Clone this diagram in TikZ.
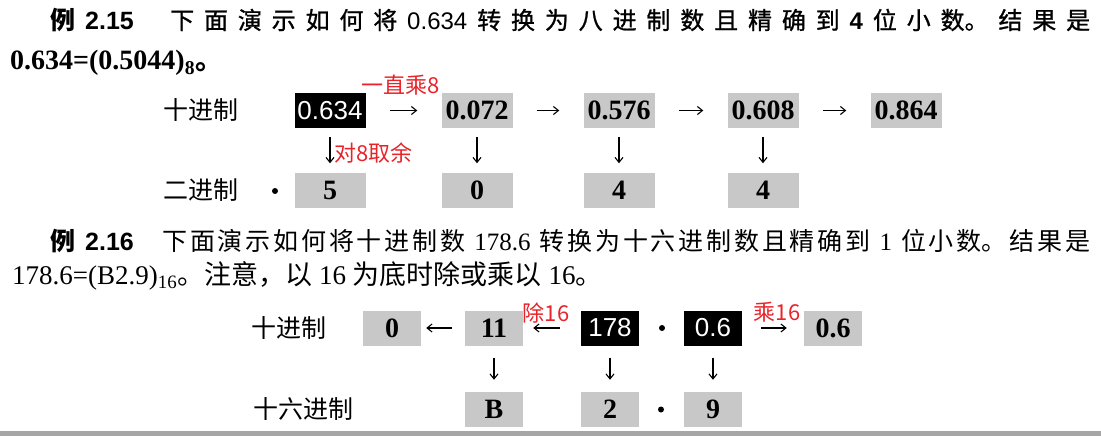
\documentclass[tikz,border=0pt]{standalone}
\usepackage{fontspec}
\setmainfont{Liberation Serif}
\newfontfamily\cjk{Noto Sans CJK SC}
\newfontfamily\cjkm[FakeBold=1]{Noto Sans CJK SC}
\newfontfamily\arial{Liberation Sans}
\usetikzlibrary{arrows.meta,positioning}
\XeTeXlinebreaklocale "zh"
\XeTeXlinebreakskip=0pt plus 1fil
\definecolor{annred}{RGB}{232,36,42}
\definecolor{boxgrey}{RGB}{200,200,200}

\tikzset{
  greybox/.style={fill=boxgrey, minimum width=71pt, minimum height=35pt, inner sep=0pt,
    font=\fontsize{28}{28}\selectfont\bfseries},
  darkbox/.style={fill=black, text=white, minimum width=71pt, minimum height=35pt, inner sep=0pt,
    font=\fontsize{26}{26}\selectfont\arial},
  conn/.style={-{Straight Barb[length=5pt,width=8pt]}, line width=1.1pt},
  dot/.style={circle, fill=black, inner sep=0pt, minimum size=6pt},
  rowlabel/.style={inner sep=0pt, font=\fontsize{25}{25}\selectfont\cjk},
  note/.style={inner sep=0pt, text=annred, font=\fontsize{22}{22}\selectfont\cjk},
  para/.style={inner sep=0pt, anchor=west}
}

\begin{document}
\begin{tikzpicture}[x=1pt,y=-1pt]
  \useasboundingbox (0,0) rectangle (1101,436);

  % Example 2.15 text
  \node[para] (ex1) at (50,20) {\fontsize{25}{25}\selectfont{\cjk\bfseries 例}\hspace{0.4em}{\arial\bfseries 2.15}};
  \node[para] (ex1txt) at (170,20) {\parbox{920pt}{\fontsize{24}{24}\selectfont\parfillskip=0pt\noindent
    {\cjkm 下面演示如何将}\hfil{\arial 0.634}\hfil{\cjkm 转换为八进制数且精确到}\hfil{\arial\bfseries 4}\hfil{\cjkm 位小数。结果是}}};
  \node[para] (res1) at (10,63) {\fontsize{28}{28}\selectfont\bfseries 0.634=(0.5044)$_{\mathbf{8}}${\cjk 。}};

  % Decimal row
  \node[rowlabel] (lbdec) at (201,110.5) {十进制};
  \node[darkbox] (dec0) at (330,110.5) {0.634};
  \foreach \i/\x/\v in {1/477/0.072,2/619/0.576,3/763/0.608,4/906/0.864}
    \node[greybox] (dec\i) at (\x,110.5) {\v};

  % Octal row
  \node[rowlabel] (lboct) at (201,190) {二进制};
  \node[dot] (odot) at (275,191) {};
  \foreach \i/\x/\v in {0/330/5,1/477/0,2/619/4,3/763/4}
    \node[greybox] (oct\i) at (\x,190) {\v};

  % Arrows
  \foreach \i/\j in {0/1,1/2,2/3,3/4}
    \draw[conn,shorten <=24pt,shorten >=24pt] (dec\i) -- (dec\j);
  \foreach \i in {0,...,3}
    \draw[conn,shorten <=9pt,shorten >=9pt] (dec\i) -- (oct\i);
  \node[note] (mul8) at (401,85) {一直乘8};
  \node[note,anchor=west] (mod8) at (334,153) {对8取余};

  % Example 2.16 text
  \node[para] (ex2) at (50,241) {\fontsize{25}{25}\selectfont{\cjk\bfseries 例}\hspace{0.4em}{\arial\bfseries 2.16}};
  \node[para] (ex2txt) at (162,241) {\parbox{928pt}{\fontsize{25}{25}\selectfont\parfillskip=0pt\noindent
    {\cjk 下面演示如何将十进制数}\hfil\ 178.6\ \hfil{\cjk 转换为十六进制数且精确到}\hfil\ 1\ \hfil{\cjk 位小数。结果是}}};
  \node[para] (res2) at (12,276) {\fontsize{27}{27}\selectfont 178.6=(B2.9)$_{\mathrm{16}}${\cjk 。注意，以} 16 {\cjk 为底时除或乘以} 16{\cjk 。}};

  % Decimal row
  \node[rowlabel,anchor=west] (lbdec2) at (251,328) {十进制};
  \node[greybox,minimum width=58pt] (hq0) at (392,328) {0};
  \node[greybox,minimum width=58pt] (hq1) at (494,328) {11};
  \node[darkbox,minimum width=58pt] (hint) at (610,328) {178};
  \node[dot] (hdot1) at (662,328) {};
  \node[darkbox,minimum width=58pt] (hfrac) at (713,328) {0.6};
  \node[greybox,minimum width=58pt] (hmul) at (833,328) {0.6};

  % Hexadecimal row
  \node[rowlabel,anchor=west] (lbhex) at (253,409.5) {十六进制};
  \node[greybox,minimum width=58pt] (hB) at (494,409.5) {B};
  \node[greybox,minimum width=58pt] (h2) at (610,409.5) {2};
  \node[dot] (hdot2) at (661,409.5) {};
  \node[greybox,minimum width=58pt] (h9) at (713,409.5) {9};

  % Arrows
  \draw[conn,shorten <=13pt,shorten >=5pt] (hq1) -- (hq0);
  \draw[conn,shorten <=21pt,shorten >=10pt] (hint) -- (hq1);
  \draw[conn,shorten <=19pt,shorten >=17pt] (hfrac) -- (hmul);
  \foreach \a/\b in {hq1/hB,hint/h2,hfrac/h9}
    \draw[conn,shorten <=12pt,shorten >=12pt] (\a) -- (\b);
  \node[note] (div16) at (546,313) {除16};
  \node[note] (mul16) at (777,312) {乘16};

  % Page rule
  \fill[black!35] (0,431) rectangle (1101,436);
\end{tikzpicture}
\end{document}
